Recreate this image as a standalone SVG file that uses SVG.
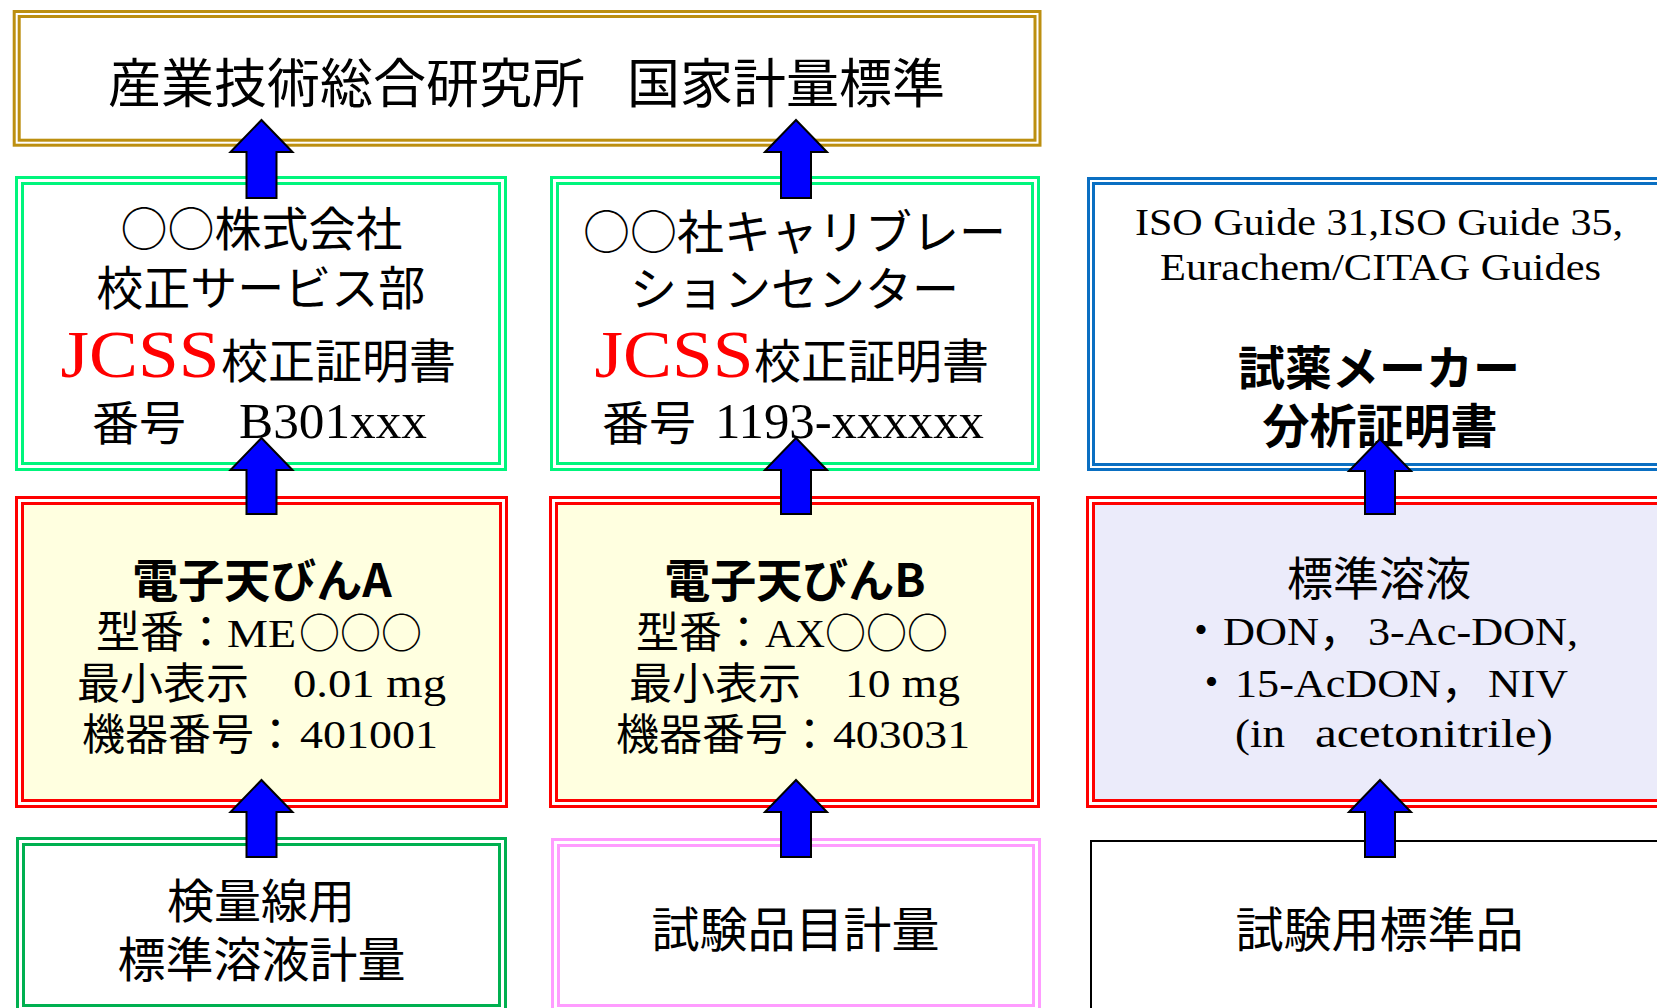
<svg xmlns="http://www.w3.org/2000/svg" width="1657" height="1008" viewBox="0 0 1657 1008">
<style>
.cj { font-family: "Noto Sans CJK JP", sans-serif; fill: #000; }
.cjb { font-family: "Noto Sans CJK JP", sans-serif; font-weight: 700; fill: #000; }
.lat { font-family: "Liberation Serif", serif; fill: #000; }
.red { fill: #FF0000; }
.b3 { stroke-width: 3; }
.gold { stroke: #BC8F10; }
.grn { stroke: #00F57C; }
.blu { stroke: #0A6FC2; }
.rd { stroke: #FF0000; }
.dg { stroke: #00B050; }
.pk { stroke: #FF9CFF; }
.arrow { fill: #0000FF; stroke: #000; stroke-width: 2; stroke-linejoin: miter; }
</style>
<rect x="0" y="0" width="1657" height="1008" fill="#FFFFFF"/>

<g id="node-aist">
  <rect class="b3 gold" x="14.2" y="11.5" width="1025.8" height="133.7" fill="#FFFFFF"/>
  <rect class="b3 gold" x="19.2" y="16.5" width="1015.8" height="123.7" fill="none"/>
  <text class="cj" x="108" y="103" font-size="53">産業技術総合研究所　</text>
  <text class="cj" x="627" y="103" font-size="53">国家計量標準</text>
</g>

<g id="node-jcss-a">
  <rect class="b3 grn" x="16.5" y="177.5" width="489" height="292" fill="#FFFFFF"/>
  <rect class="b3 grn" x="22.5" y="183.5" width="477" height="280" fill="none"/>
  <text class="cj" x="261.6" y="246" font-size="47" text-anchor="middle">○○株式会社</text>
  <text class="cj" x="260.7" y="304.6" font-size="47" text-anchor="middle">校正サービス部</text>
  <text class="lat red" x="60.5" y="377" font-size="68" textLength="159" lengthAdjust="spacingAndGlyphs">JCSS</text>
  <text class="cj" x="221" y="378" font-size="47">校正証明書</text>
  <text class="cj" x="92" y="440" font-size="47">番号</text>
  <text class="lat" x="239" y="438" font-size="50" textLength="188" lengthAdjust="spacingAndGlyphs">B301xxx</text>
</g>

<g id="node-jcss-b">
  <rect class="b3 grn" x="551.5" y="177.5" width="487" height="292" fill="#FFFFFF"/>
  <rect class="b3 grn" x="557.5" y="183.5" width="475" height="280" fill="none"/>
  <text class="cj" x="794.5" y="249" font-size="47" text-anchor="middle">○○社キャリブレー</text>
  <text class="cj" x="794.5" y="306" font-size="47" text-anchor="middle">ションセンター</text>
  <text class="lat red" x="594.5" y="377" font-size="68" textLength="159" lengthAdjust="spacingAndGlyphs">JCSS</text>
  <text class="cj" x="754" y="378" font-size="47">校正証明書</text>
  <text class="cj" x="602" y="440" font-size="47">番号</text>
  <text class="lat" x="715" y="438" font-size="50" textLength="269" lengthAdjust="spacingAndGlyphs">1193-xxxxxx</text>
</g>

<g id="node-maker">
  <rect class="b3 blu" x="1088.5" y="178.5" width="600" height="291" fill="#FFFFFF"/>
  <rect class="b3 blu" x="1093.5" y="183.5" width="590" height="281" fill="none"/>
  <text class="lat" x="1135" y="235" font-size="38" textLength="488" lengthAdjust="spacingAndGlyphs">ISO Guide 31,ISO Guide 35,</text>
  <text class="lat" x="1160" y="280" font-size="38" textLength="441" lengthAdjust="spacingAndGlyphs">Eurachem/CITAG Guides</text>
  <text class="cjb" x="1379" y="384.5" font-size="47" text-anchor="middle">試薬メーカー</text>
  <text class="cjb" x="1380" y="443" font-size="47" text-anchor="middle">分析証明書</text>
</g>

<g id="node-balance-a">
  <rect class="b3 rd" x="16.5" y="497.5" width="490" height="309" fill="#FFFFFF"/>
  <rect class="b3 rd" x="22.5" y="503.5" width="478" height="297" fill="#FFFFE0"/>
  <text class="cjb" x="262" y="596.5" font-size="46" text-anchor="middle">電子天びんA</text>
  <text class="cj" x="96" y="648" font-size="44">型番：</text>
  <text class="lat" x="227" y="647" font-size="40" textLength="69" lengthAdjust="spacingAndGlyphs">ME</text>
  <text class="cj" x="299" y="648" font-size="41">○○○</text>
  <text class="cj" x="77" y="698.5" font-size="43">最小表示</text>
  <text class="lat" x="293" y="697" font-size="40" textLength="153" lengthAdjust="spacingAndGlyphs">0.01 mg</text>
  <text class="cj" x="82" y="750" font-size="43">機器番号：</text>
  <text class="lat" x="300" y="748" font-size="40" textLength="138" lengthAdjust="spacingAndGlyphs">401001</text>
</g>

<g id="node-balance-b">
  <rect class="b3 rd" x="550.5" y="497.5" width="488" height="309" fill="#FFFFFF"/>
  <rect class="b3 rd" x="556.5" y="503.5" width="476" height="297" fill="#FFFFE0"/>
  <text class="cjb" x="795" y="596.5" font-size="46" text-anchor="middle">電子天びんB</text>
  <text class="cj" x="636" y="648" font-size="43">型番：</text>
  <text class="lat" x="765" y="647" font-size="40" textLength="60" lengthAdjust="spacingAndGlyphs">AX</text>
  <text class="cj" x="825" y="648" font-size="41">○○○</text>
  <text class="cj" x="629" y="698.5" font-size="43">最小表示</text>
  <text class="lat" x="845" y="697" font-size="40" textLength="115" lengthAdjust="spacingAndGlyphs">10 mg</text>
  <text class="cj" x="616" y="750" font-size="43">機器番号：</text>
  <text class="lat" x="833" y="748" font-size="40" textLength="137" lengthAdjust="spacingAndGlyphs">403031</text>
</g>

<g id="node-std-solution">
  <rect class="b3 rd" x="1087.5" y="497.5" width="600" height="309" fill="#FFFFFF"/>
  <rect class="b3 rd" x="1093.5" y="503.5" width="590" height="297" fill="#EBEBFA"/>
  <text class="cj" x="1379" y="594.5" font-size="46" text-anchor="middle">標準溶液</text>
  <text class="cj" x="1179.5" y="646" font-size="43">・</text>
  <text class="lat" x="1223" y="645" font-size="41" textLength="96" lengthAdjust="spacingAndGlyphs">DON</text>
  <text class="cj" x="1319" y="646" font-size="43">，</text>
  <text class="lat" x="1368" y="645" font-size="41" textLength="210" lengthAdjust="spacingAndGlyphs">3-Ac-DON,</text>
  <text class="cj" x="1190" y="698" font-size="43">・</text>
  <text class="lat" x="1235" y="697" font-size="41" textLength="206" lengthAdjust="spacingAndGlyphs">15-AcDON</text>
  <text class="cj" x="1441" y="698" font-size="43">，</text>
  <text class="lat" x="1488" y="697" font-size="41" textLength="80" lengthAdjust="spacingAndGlyphs">NIV</text>
  <text class="lat" x="1235" y="747" font-size="41" textLength="50" lengthAdjust="spacingAndGlyphs">(in</text>
  <text class="lat" x="1315" y="747" font-size="41" textLength="238" lengthAdjust="spacingAndGlyphs">acetonitrile)</text>
</g>

<g id="node-calib-weighing">
  <rect class="b3 dg" x="17.5" y="838.5" width="488" height="200" fill="#FFFFFF"/>
  <rect class="b3 dg" x="23.5" y="844.5" width="476" height="161" fill="none"/>
  <text class="cj" x="261" y="918" font-size="47" text-anchor="middle">検量線用</text>
  <text class="cj" x="261.5" y="977" font-size="48" text-anchor="middle">標準溶液計量</text>
</g>

<g id="node-sample-weighing">
  <rect class="b3 pk" x="552.5" y="839.5" width="487" height="200" fill="#FFFFFF"/>
  <rect class="b3 pk" x="558.5" y="845.5" width="475" height="160" fill="none"/>
  <text class="cj" x="795.5" y="947" font-size="48" text-anchor="middle">試験品目計量</text>
</g>

<g id="node-test-standard">
  <rect x="1091" y="841" width="600" height="200" fill="#FFFFFF" stroke="#000000" stroke-width="2"/>
  <text class="cj" x="1379.5" y="947" font-size="48" text-anchor="middle">試験用標準品</text>
</g>

<g id="connectors">
  <path class="arrow" d="M261.5,120 L292.5,152 L276.5,152 L276.5,198 L246.5,198 L246.5,152 L230.5,152 Z"/>
  <path class="arrow" d="M796,120 L827,152 L811,152 L811,198 L781,198 L781,152 L765,152 Z"/>
  <path class="arrow" d="M261.5,438 L292.5,470 L276.5,470 L276.5,514 L246.5,514 L246.5,470 L230.5,470 Z"/>
  <path class="arrow" d="M796,438 L827,470 L811,470 L811,514 L781,514 L781,470 L765,470 Z"/>
  <path class="arrow" d="M1380,439 L1411,471 L1395,471 L1395,514 L1365,514 L1365,471 L1349,471 Z"/>
  <path class="arrow" d="M261.5,780 L292.5,812 L276.5,812 L276.5,857 L246.5,857 L246.5,812 L230.5,812 Z"/>
  <path class="arrow" d="M796,780 L827,812 L811,812 L811,857 L781,857 L781,812 L765,812 Z"/>
  <path class="arrow" d="M1380,780 L1411,812 L1395,812 L1395,857 L1365,857 L1365,812 L1349,812 Z"/>
</g>
</svg>
